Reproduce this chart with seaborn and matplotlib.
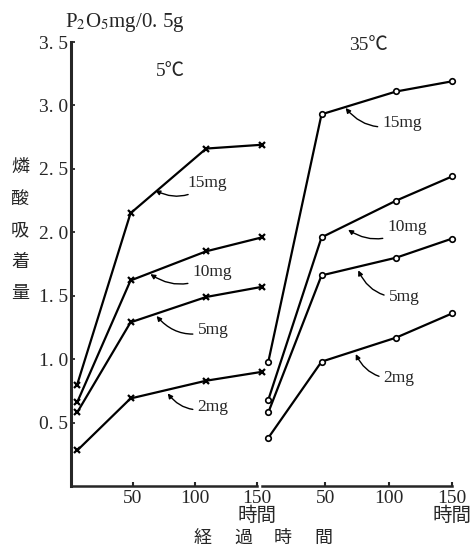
import matplotlib
matplotlib.use("Agg")
import matplotlib.pyplot as plt
import seaborn as sns
import pandas as pd

# ---------------- data ----------------
doses = ["15mg", "10mg", "5mg", "2mg"]

hours_5c = [5, 48, 109, 154]
p5_15 = [0.80, 2.15, 2.66, 2.69]
p5_10 = [0.66, 1.62, 1.85, 1.96]
p5_5 = [0.58, 1.29, 1.49, 1.57]
p5_2 = [0.28, 0.69, 0.83, 0.90]

hours_35c = [5, 47, 106, 150]
p35_15 = [0.98, 2.93, 3.11, 3.19]
p35_10 = [0.68, 1.96, 2.25, 2.44]
p35_5 = [0.58, 1.66, 1.80, 1.95]
p35_2 = [0.38, 0.98, 1.17, 1.36]

yticks = [0.5, 1.0, 1.5, 2.0, 2.5, 3.0, 3.5]
ytick_labels = ["0. 5", "1. 0", "1. 5", "2. 0", "2. 5", "3. 0", "3. 5"]
xticks = [50, 100, 150]
xtick_labels = ["50", "100", "150\n時間"]


def long_frame(hours, series):
    rows = []
    for dose, vals in zip(doses, series):
        for h, v in zip(hours, vals):
            rows.append({"hours": h, "P": v, "dose": dose})
    return pd.DataFrame(rows)


df5 = long_frame(hours_5c, [p5_15, p5_10, p5_5, p5_2])
df35 = long_frame(hours_35c, [p35_15, p35_10, p35_5, p35_2])

# ---------------- style ----------------
sns.set_style("ticks")
FAM = ["Liberation Serif", "Noto Sans CJK JP", "DejaVu Sans"]
plt.rcParams["font.family"] = FAM
plt.rcParams["mathtext.fontset"] = "stix"

W, H = 475, 549
fig = plt.figure(figsize=(W / 100, H / 100), dpi=100)
fig.patch.set_facecolor("white")

bottom = 1 - 486 / H
height = 444 / H
axL = fig.add_axes([71 / W, bottom, 186 / W, height])
axR = fig.add_axes([262 / W, bottom, 190 / W, height])

pal = {d: "black" for d in doses}

sns.lineplot(data=df5, x="hours", y="P", hue="dose", palette=pal, ax=axL,
             estimator=None, sort=False, legend=False, lw=1.6,
             marker="x", markersize=4.5, markeredgewidth=1.6,
             markeredgecolor="black", clip_on=False)
sns.lineplot(data=df35, x="hours", y="P", hue="dose", palette=pal, ax=axR,
             estimator=None, sort=False, legend=False, lw=1.6,
             marker="o", markersize=4, markeredgewidth=1.2,
             markerfacecolor="white", markeredgecolor="black", clip_on=False)

for ax in (axL, axR):
    ax.set_xlim(0, 150)
    ax.set_ylim(0, 3.5)
    ax.set_xlabel("")
    ax.set_ylabel("")
    ax.set_facecolor("none")
    ax.spines["top"].set_visible(False)
    ax.spines["right"].set_visible(False)
    ax.spines["bottom"].set_linewidth(1.8)
    ax.set_xticks(xticks)
    ax.set_xticklabels(xtick_labels, fontsize=14, linespacing=0.95, family=FAM)
    ax.tick_params(axis="x", direction="in", length=3, width=1.5, pad=3)

axL.spines["left"].set_linewidth(2.2)
axL.set_yticks(yticks)
axL.set_yticklabels(ytick_labels, fontsize=14, family=FAM)
axL.tick_params(axis="y", direction="in", length=3, width=1.3, pad=2)

axR.spines["left"].set_visible(False)
axR.set_yticks([])

# ---------------- annotations ----------------
ann_left = [("15mg", (94, 2.39), (68, 2.33)),
            ("10mg", (98, 1.685), (64, 1.67)),
            ("5mg", (102, 1.23), (69, 1.34)),
            ("2mg", (102, 0.62), (78, 0.73))]
ann_right = [("15mg", (95, 2.86), (66, 2.98)),
             ("10mg", (99, 2.04), (68, 2.02)),
             ("5mg", (100, 1.49), (76, 1.70)),
             ("2mg", (96, 0.85), (74, 1.04))]

for ax, anns in ((axL, ann_left), (axR, ann_right)):
    for label, txt, tip in anns:
        ax.annotate(label, xy=tip, xytext=txt, fontsize=12.5, family=FAM,
                    ha="left", va="center",
                    arrowprops=dict(arrowstyle="-|>", color="black", lw=1.0,
                                    mutation_scale=7, shrinkA=1, shrinkB=0,
                                    connectionstyle="arc3,rad=-0.35"))


def ftext(px, py, s, **kw):
    fig.text(px / W, 1 - py / H, s, ha="center", va="center", **kw)


ftext(125, 22, r"P$_2$O$_5$mg/0. 5g", fontsize=15, family=FAM)
ftext(170, 72, "5℃", fontsize=14, family=FAM)
ftext(368, 45, "35℃", fontsize=14, family=FAM)

for ch, py in zip("燐酸吸着量", [167, 199, 230, 262, 293]):
    ftext(20, py, ch, fontsize=13, family=["Noto Sans CJK JP"])

for ch, px in zip("経過時間", [203, 243, 283, 323]):
    ftext(px, 538, ch, fontsize=13, family=["Noto Sans CJK JP"])

fig.savefig("out.png", dpi=100)
